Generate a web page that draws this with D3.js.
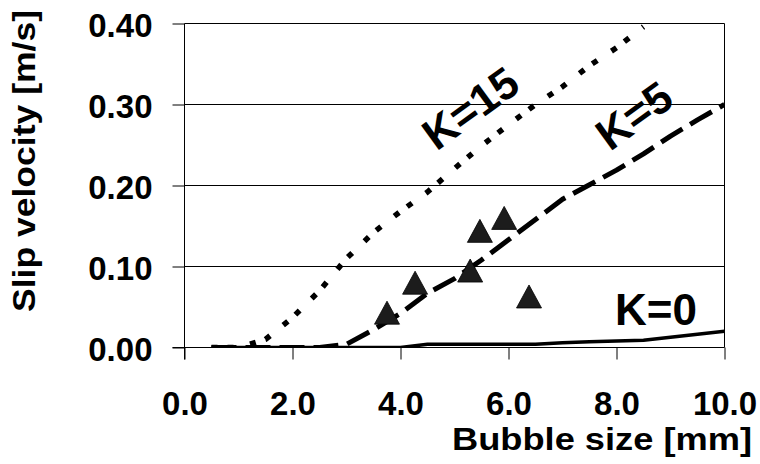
<!DOCTYPE html>
<html>
<head>
<meta charset="utf-8">
<script src="https://cdn.jsdelivr.net/npm/d3@7"></script>
<style>
  html, body { margin: 0; padding: 0; background: #fff; }
  svg { display: block; }
  text { font-family: "Liberation Sans", Arial, Helvetica, sans-serif; font-weight: bold; fill: #000; }
</style>
</head>
<body>
<svg id="chart" width="760" height="464"></svg>
<script>
// Bubble diameter grid for the model curves [mm]
const diameters = [0.5, 1.0, 1.5, 2.0, 2.5, 3.0, 3.5, 4.0, 4.5, 5.0,
                   5.5, 6.0, 6.5, 7.0, 7.5, 8.0, 8.5, 9.0, 9.5, 10.0];

// Model slip velocity [m/s] for three values of K
const slipK0  = [0, 0, 0, 0, 0, 0, 0, 0, 0.004, 0.004,
                 0.004, 0.004, 0.004, 0.006, 0.007, 0.008, 0.009, 0.0127, 0.0163, 0.020];
const slipK5  = [0, 0, 0, 0, 0, 0.004, 0.022, 0.042, 0.067, 0.085,
                 0.108, 0.133, 0.158, 0.183, 0.201, 0.219, 0.239, 0.261, 0.281, 0.300];
const slipK15 = [0, 0, 0.010, 0.037, 0.070, 0.110, 0.142, 0.168, 0.192, 0.221,
                 0.249, 0.275, 0.300, 0.322, 0.348, 0.370, 0.396];

// Measured bubbles
const measSize = [3.75, 4.27, 5.29, 5.47, 5.92, 6.38];
const measSlip = [0.043, 0.080, 0.095, 0.144, 0.160, 0.063];

// Axis ticks
const xTicks = [0, 2, 4, 6, 8, 10];
const yTicks = [0, 0.1, 0.2, 0.3, 0.4];

// Curve labels: text, anchor position in data units, rotation
const curveLabels = ["K=15", "K=5", "K=0"];
const labelX = [5.29, 8.32, 8.73];
const labelY = [0.296, 0.287, 0.028];
const labelAngle = [-36, -36, 0];

const svg = d3.select("#chart");
const x = d3.scaleLinear().domain([0, 10]).range([184.5, 724.5]);
const y = d3.scaleLinear().domain([0, 0.4]).range([347.5, 23.5]);

const TICK_FONT = 33, TITLE_FONT = 32;

// Horizontal grid lines (top one doubles as the frame)
svg.append("g").selectAll("line").data(yTicks.filter(d => d > 0)).join("line")
  .attr("x1", x(0)).attr("x2", x(10))
  .attr("y1", d => y(d)).attr("y2", d => y(d))
  .attr("stroke", "#000").attr("stroke-width", 1);

// Right frame edge
svg.append("line")
  .attr("x1", x(10)).attr("x2", x(10))
  .attr("y1", y(0.4)).attr("y2", y(0))
  .attr("stroke", "#000").attr("stroke-width", 1);

// X axis
const xAxis = svg.append("g")
  .attr("transform", `translate(0,${y(0)})`)
  .call(d3.axisBottom(x).tickValues(xTicks).tickSize(12).tickSizeOuter(0)
        .tickFormat(d3.format(".1f")));
xAxis.select(".domain").attr("stroke", "#000").attr("d", `M${x(0) - 12},0H${x(10)}`);
xAxis.selectAll(".tick line").attr("stroke", "#000");
xAxis.selectAll(".tick text")
  .attr("y", 67.5).attr("dy", 0)
  .attr("font-size", TICK_FONT)
  .attr("font-family", null);

// Y axis
const yAxis = svg.append("g")
  .attr("transform", `translate(${x(0)},0)`)
  .call(d3.axisLeft(y).tickValues(yTicks).tickSize(12).tickSizeOuter(0)
        .tickFormat(d3.format(".2f")));
yAxis.select(".domain").attr("stroke", "#000").attr("d", `M0,${y(0.4)}V${y(0) + 12}`);
yAxis.selectAll(".tick line").attr("stroke", "#000");
yAxis.selectAll(".tick text")
  .attr("x", -32).attr("dy", "0.39em")
  .attr("font-size", TICK_FONT)
  .attr("font-family", null);

// Clip for the curves
svg.append("clipPath").attr("id", "plotClip").append("rect")
  .attr("x", x(0)).attr("y", y(0.4))
  .attr("width", x(10) - x(0)).attr("height", y(0) - y(0.4));

const line = d3.line().x(d => x(d[0])).y(d => y(d[1]));
const curves = [
  { values: slipK0,  width: 3.5, dash: null },
  { values: slipK5,  width: 5,   dash: "25,9" },
  { values: slipK15, width: 5.5, dash: "6,10,6,17" }
];
const curveG = svg.append("g").attr("clip-path", "url(#plotClip)");
curves.forEach(c => {
  curveG.append("path")
    .datum(c.values.map((v, i) => [diameters[i], v]))
    .attr("d", line)
    .attr("fill", "none")
    .attr("stroke", "#000")
    .attr("stroke-width", c.width)
    .attr("stroke-dasharray", c.dash)
    .attr("stroke-linecap", "butt")
    .attr("stroke-linejoin", "round");
});

// Measured points as triangles (centred on their bounding box)
const triW = 25, triH = 23;
svg.append("g").selectAll("path").data(measSize.map((s, i) => [s, measSlip[i]])).join("path")
  .attr("transform", d => `translate(${x(d[0])},${y(d[1])})`)
  .attr("d", `M0,${-triH / 2}L${triW / 2},${triH / 2}L${-triW / 2},${triH / 2}Z`)
  .attr("fill", "#1c1c1c")
  .attr("stroke", "#000")
  .attr("stroke-width", 0.8);

// Curve labels
curveLabels.forEach((t, i) => {
  svg.append("text")
    .attr("transform", `translate(${x(labelX[i])},${y(labelY[i])}) rotate(${labelAngle[i]})`)
    .attr("text-anchor", "middle")
    .attr("dy", labelAngle[i] ? "0.36em" : 0)
    .attr("font-size", 44)
    .text(t);
});

// Axis titles
svg.append("text")
  .attr("x", 752).attr("y", 450)
  .attr("text-anchor", "end").attr("font-size", TITLE_FONT)
  .attr("textLength", 300).attr("lengthAdjust", "spacingAndGlyphs")
  .text("Bubble size [mm]");

svg.append("text")
  .attr("transform", "translate(35,161) rotate(-90)")
  .attr("text-anchor", "middle").attr("font-size", TITLE_FONT)
  .attr("textLength", 302).attr("lengthAdjust", "spacingAndGlyphs")
  .text("Slip velocity [m/s]");
</script>
</body>
</html>
